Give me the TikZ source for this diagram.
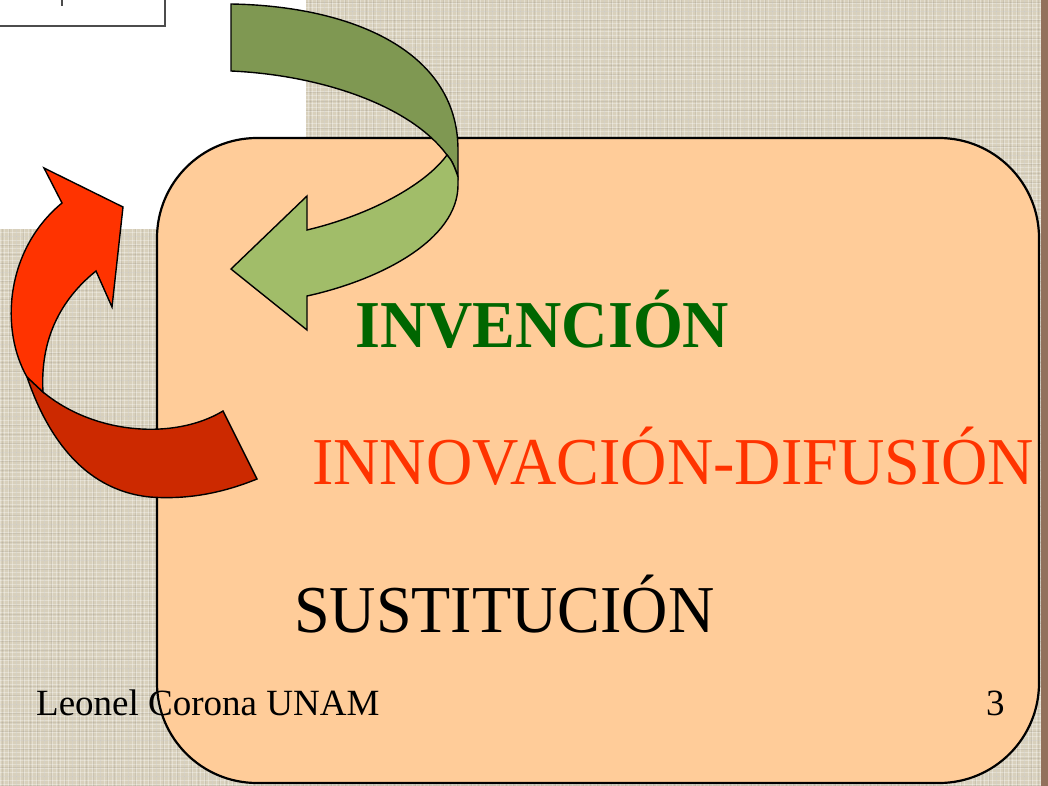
\documentclass[tikz,border=0pt]{standalone}
\usepackage{fontspec}
\setmainfont{Liberation Serif}
\newfontfamily\slidefont[FakeStretch=0.957]{Liberation Serif}
\usepackage{tikz}

\definecolor{linen}{RGB}{216,208,188}
\definecolor{peach}{RGB}{255,204,153}
\definecolor{leafdark}{RGB}{127,152,82}
\definecolor{leaflight}{RGB}{161,189,105}
\definecolor{firelight}{RGB}{255,51,0}
\definecolor{firedark}{RGB}{204,41,0}
\definecolor{textgreen}{RGB}{0,102,0}
\definecolor{edgebrown}{RGB}{146,113,92}

\tikzset{
  ribbon/.style={draw=black,line width=1.4pt,line join=miter},
  title/.style={inner sep=0pt,anchor=base west,font=\slidefont\fontsize{67}{80}\selectfont},
  footer/.style={inner sep=0pt,anchor=base west,font=\fontsize{37}{44}\selectfont}
}

\begin{document}
\begin{tikzpicture}[x=1pt,y=-1pt]
                      \useasboundingbox (0,0) rectangle (1048,786);
                      \fill[linen] (0,0) rectangle (1048,786);
                      \foreach \x in {0,4,...,1048} \draw[white,opacity=0.3,line width=1pt] (\x,0) -- (\x,786);
                      \foreach \y in {0,4,...,786} \draw[white,opacity=0.3,line width=1pt] (0,\y) -- (1048,\y);
                      \foreach \x in {2,9,...,1048} \draw[black,opacity=0.06,line width=0.8pt] (\x,0) -- (\x,786);
                      \foreach \y in {2,11,...,786} \draw[black,opacity=0.06,line width=0.8pt] (0,\y) -- (1048,\y);
                      \fill[edgebrown] (1041,0) rectangle (1048,786);
                      \fill[white] (0,0) rectangle (306,229);
                      \draw[black!70,line width=1.5pt] (0,26) -- (166,26) (165,0) -- (165,26) (62,0) -- (62,6);
                      \draw[fill=peach,line width=2.2pt,rounded corners=100] (157,138) rectangle (1039,783);
                      \fill[ribbon,fill=leafdark] (231,4) .. controls (350,6) and (458,50) .. (458,150) -- (458,177)
                        .. controls (455,168) and (452,160) .. (447,155)
                        .. controls (410,105) and (320,75) .. (231,71) -- cycle;
                      \fill[ribbon,fill=leaflight] (447,155) .. controls (452,160) and (455,168) .. (458,177) -- (458,185)
                        .. controls (458,240) and (380,280) .. (307,296) -- (307,330) -- (231,269) -- (307,196) -- (307,230)
                        .. controls (370,215) and (425,185) .. (447,155) -- cycle;
                      \fill[ribbon,fill=firedark] (27,377) .. controls (45,430) and (80,490) .. (150,497)
                        .. controls (190,500) and (225,492) .. (257,479) -- (223,411)
                        .. controls (175,440) and (95,435) .. (43,392) -- cycle;
                      \fill[ribbon,fill=firelight] (27,377) .. controls (0,330) and (5,250) .. (62,203) -- (44,168) -- (123,207)
                        -- (112,307) -- (96,271) .. controls (60,300) and (40,340) .. (43,392) -- cycle;
                      \node[title,text=textgreen,font=\slidefont\bfseries\fontsize{67}{80}\selectfont](inv)at(355,347){INVENCIÓN};
                      \node[title,text=firelight](inn)at(312,484){INNOVACIÓN-DIFUSIÓN};
                      \node[title](sus)at(294,632){SUSTITUCIÓN};
                      \node[footer](autor)at(36,715){Leonel Corona UNAM};
                      \node[footer](num)at(986,715){3};
                  \end{tikzpicture}
\end{document}
